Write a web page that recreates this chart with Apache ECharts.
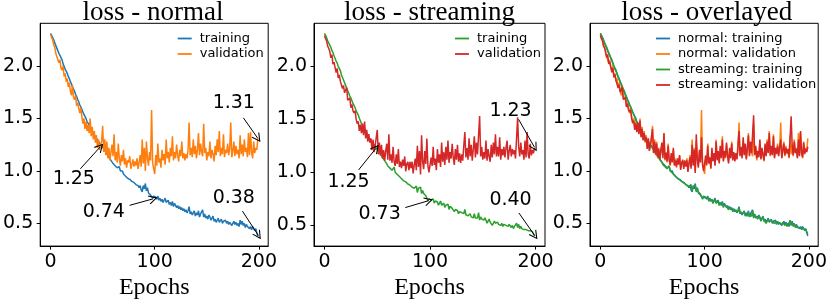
<!DOCTYPE html>
<html>
<head>
<meta charset="utf-8">
<script src="https://cdn.jsdelivr.net/npm/echarts@6/dist/echarts.min.js"></script>
<style>html,body{margin:0;padding:0;background:#fff}#c{width:830px;height:305px}</style>
</head>
<body>
<div id="c"></div>
<script>
// ---------- data ----------
const epochs = Array.from({length: 200}, (_, i) => i);
const xTicks = [0, 100, 200];
const yTicks = [0.5, 1.0, 1.5, 2.0];
const titles = ['loss - normal', 'loss - streaming', 'loss - overlayed'];

const normalTraining = [
2.31,2.29,2.27,2.25,2.22,2.21,2.17,2.16,2.12,2.11,
2.08,2.06,2.02,2.01,1.97,1.95,1.93,1.90,1.88,1.85,
1.83,1.80,1.78,1.76,1.73,1.71,1.68,1.66,1.63,1.62,
1.59,1.56,1.55,1.52,1.50,1.47,1.46,1.44,1.41,1.40,
1.38,1.36,1.34,1.33,1.31,1.30,1.28,1.27,1.25,1.24,
1.23,1.21,1.20,1.18,1.16,1.16,1.13,1.12,1.10,1.11,
1.07,1.06,1.05,1.06,1.03,1.02,1.04,1.00,0.99,1.00,
0.97,0.98,0.95,0.96,0.93,0.94,0.92,0.93,0.90,0.91,
0.89,0.90,0.87,0.88,0.86,0.84,0.86,0.82,0.80,0.86,
0.83,0.88,0.81,0.84,0.79,0.80,0.77,0.78,0.74,0.76,
0.77,0.75,0.73,0.76,0.72,0.74,0.71,0.73,0.70,0.72,
0.74,0.70,0.69,0.72,0.68,0.70,0.67,0.71,0.66,0.69,
0.68,0.65,0.67,0.64,0.66,0.63,0.65,0.62,0.64,0.61,
0.63,0.60,0.62,0.66,0.59,0.61,0.58,0.60,0.62,0.57,
0.60,0.58,0.62,0.56,0.59,0.58,0.63,0.56,0.59,0.55,
0.57,0.54,0.58,0.56,0.53,0.55,0.57,0.52,0.54,0.51,
0.53,0.55,0.51,0.52,0.54,0.50,0.52,0.51,0.53,0.50,
0.52,0.49,0.51,0.50,0.48,0.50,0.52,0.49,0.51,0.48,
0.50,0.47,0.53,0.49,0.52,0.48,0.50,0.46,0.49,0.47,
0.48,0.45,0.47,0.44,0.47,0.46,0.43,0.45,0.41,0.38];

const normalValidation = [
2.30,2.27,2.25,2.20,2.18,2.12,2.09,2.10,2.03,2.06,
1.98,1.96,2.00,1.90,1.93,1.85,1.88,1.80,1.84,1.76,
1.72,1.82,1.70,1.68,1.72,1.62,1.65,1.60,1.55,1.60,
1.52,1.45,1.50,1.40,1.47,1.38,1.44,1.36,1.50,1.33,
1.42,1.30,1.38,1.27,1.34,1.22,1.30,1.20,1.25,1.28,
1.43,1.18,1.30,1.15,1.28,1.12,1.22,1.10,1.18,1.25,
1.14,1.35,1.10,1.18,1.08,1.26,1.12,1.05,1.15,1.09,
1.20,1.06,1.12,1.03,1.10,1.08,1.14,1.02,1.06,1.11,
1.04,1.09,1.05,1.12,1.02,1.08,1.15,1.04,1.30,1.07,
1.22,1.00,1.28,1.12,1.05,1.18,1.10,1.58,1.08,1.02,
0.97,1.15,1.05,1.26,1.08,1.12,1.03,1.20,1.10,1.16,
1.06,1.30,1.12,1.18,1.08,1.22,1.14,1.33,1.10,1.18,
1.12,1.25,1.15,1.09,1.20,1.14,1.28,1.12,1.17,1.10,
1.16,1.12,1.20,1.46,1.15,1.22,1.13,1.30,1.16,1.24,
1.12,1.20,1.36,1.15,1.26,1.18,1.14,1.45,1.17,1.22,
1.10,1.18,1.14,1.28,1.12,1.20,1.16,1.09,1.24,1.15,
1.30,1.18,1.38,1.14,1.22,1.16,1.35,1.13,1.20,1.17,
1.26,1.15,1.21,1.46,1.13,1.19,1.28,1.14,1.24,1.16,
1.20,1.12,1.34,1.16,1.25,1.14,1.30,1.18,1.22,1.13,
1.36,1.15,1.37,1.18,1.12,1.28,1.17,1.22,1.20,1.31];

const streamingTraining = [
2.31,2.30,2.27,2.24,2.23,2.20,2.18,2.15,2.13,2.10,
2.09,2.05,2.03,2.00,1.98,1.96,1.92,1.91,1.87,1.86,
1.82,1.81,1.77,1.76,1.72,1.70,1.69,1.65,1.64,1.61,
1.58,1.57,1.54,1.51,1.50,1.46,1.45,1.43,1.42,1.39,
1.37,1.37,1.33,1.32,1.30,1.29,1.27,1.26,1.25,1.23,
1.22,1.20,1.19,1.17,1.17,1.14,1.13,1.11,1.11,1.08,
1.06,1.07,1.04,1.05,1.02,1.03,1.05,1.00,1.00,0.98,
0.98,0.96,0.96,0.94,0.95,0.92,0.93,0.91,0.92,0.89,
0.90,0.88,0.89,0.86,0.87,0.85,0.84,0.87,0.81,0.85,
0.84,0.86,0.80,0.83,0.80,0.79,0.78,0.77,0.73,0.75,
0.76,0.74,0.74,0.75,0.71,0.73,0.72,0.72,0.69,0.71,
0.73,0.69,0.70,0.71,0.67,0.69,0.68,0.70,0.65,0.68,
0.67,0.66,0.66,0.63,0.65,0.64,0.64,0.61,0.63,0.62,
0.62,0.61,0.61,0.65,0.60,0.60,0.59,0.59,0.61,0.58,
0.59,0.57,0.61,0.57,0.58,0.57,0.62,0.55,0.58,0.56,
0.56,0.55,0.57,0.55,0.52,0.54,0.56,0.53,0.53,0.50,
0.52,0.54,0.52,0.51,0.53,0.51,0.51,0.50,0.52,0.49,
0.51,0.50,0.50,0.49,0.49,0.51,0.51,0.48,0.50,0.47,
0.49,0.48,0.52,0.48,0.51,0.47,0.49,0.47,0.48,0.46,
0.47,0.46,0.46,0.45,0.46,0.45,0.44,0.44,0.42,0.40];

const streamingValidation = [
2.29,2.26,2.24,2.19,2.17,2.14,2.08,2.11,2.02,2.04,
1.99,1.94,1.98,1.89,1.92,1.86,1.86,1.79,1.82,1.75,
1.74,1.80,1.68,1.69,1.70,1.61,1.64,1.58,1.56,1.58,
1.50,1.46,1.48,1.39,1.45,1.37,1.46,1.35,1.48,1.32,
1.40,1.29,1.36,1.28,1.32,1.21,1.31,1.19,1.25,1.26,
1.40,1.17,1.28,1.16,1.26,1.13,1.21,1.11,1.20,1.27,
1.12,1.36,1.11,1.17,1.09,1.24,1.10,1.06,1.17,1.08,
1.22,1.05,1.10,1.04,1.12,1.06,1.15,1.01,1.08,1.10,
1.02,1.10,1.04,1.10,0.99,1.07,1.13,1.02,1.25,1.05,
1.20,0.98,1.35,1.10,1.03,1.20,1.08,1.32,1.06,1.00,
0.99,1.14,1.06,1.24,1.07,1.13,1.02,1.22,1.09,1.17,
1.05,1.28,1.10,1.19,1.07,1.24,1.12,1.30,1.09,1.19,
1.13,1.27,1.14,1.07,1.22,1.12,1.26,1.10,1.18,1.09,
1.17,1.11,1.25,1.38,1.14,1.23,1.12,1.32,1.15,1.26,
1.11,1.22,1.34,1.14,1.28,1.17,1.16,1.53,1.15,1.24,
1.12,1.19,1.13,1.30,1.11,1.22,1.15,1.10,1.26,1.14,
1.28,1.17,1.36,1.15,1.24,1.15,1.33,1.12,1.22,1.16,
1.24,1.14,1.23,1.30,1.12,1.20,1.26,1.15,1.22,1.17,
1.21,1.13,1.32,1.52,1.24,1.15,1.28,1.17,1.21,1.12,
1.30,1.14,1.38,1.17,1.13,1.27,1.16,1.21,1.18,1.23];

// annotations: [label, textX, textY, arrowFromX, arrowFromY, arrowToX, arrowToY]
const normalNotes = [
  ['1.25', 22.3, 0.92, 28.6, 1.02, 47.6, 1.228],
  ['0.74', 51.1, 0.605, 75.9, 0.672, 98.5, 0.734],
  ['1.31', 175.9, 1.651, 185.1, 1.506, 199, 1.31],
  ['0.38', 175.9, 0.744, 184.2, 0.617, 199.5, 0.385]
];
const streamingNotes = [
  ['1.25', 22.8, 0.907, 32.3, 1.023, 48.8, 1.227],
  ['0.73', 52.2, 0.602, 76.6, 0.668, 98.7, 0.733],
  ['1.23', 176.3, 1.58, 183.9, 1.50, 199, 1.236],
  ['0.40', 176.3, 0.739, 184.2, 0.617, 199.3, 0.403]
];

// ---------- chart ----------
const C = {blue:'#1f77b4', orange:'#ff7f0e', green:'#2ca02c', red:'#d62728'};
const grids = [
  {left: 37.7, top: 23.3, width: 230.5, height: 229.2},
  {left: 314, top: 23.3, width: 231, height: 229.2},
  {left: 590, top: 23.3, width: 233.5, height: 229.2}
];
const xMin = -0.05 * 199, xMax = 199 + 0.05 * 199;
function yLim(arrs) {
  let lo = Infinity, hi = -Infinity;
  arrs.forEach(a => a.forEach(v => { lo = Math.min(lo, v); hi = Math.max(hi, v); }));
  const m = (hi - lo) * 0.05;
  return [lo - m, hi + m];
}
const yl = [
  yLim([normalTraining, normalValidation]),
  yLim([streamingTraining, streamingValidation]),
  yLim([normalTraining, normalValidation, streamingTraining, streamingValidation])
];
const tickFont = {fontFamily: 'DejaVu Sans', fontSize: 19, color: '#000'};

const xAxes = grids.map((g, i) => ({
  type: 'value', gridIndex: i, min: xMin, max: xMax,
  name: 'Epochs', nameLocation: 'middle', nameGap: 25,
  nameTextStyle: {fontFamily: 'Liberation Serif', fontSize: 24, color: '#000'},
  axisLine: {show: true, onZero: false, lineStyle: {color: '#000', width: 1}},
  axisTick: {show: true, length: 3.5, lineStyle: {color: '#000'}, customValues: xTicks},
  axisLabel: Object.assign({margin: 6, customValues: xTicks, formatter: v => String(v)}, tickFont),
  splitLine: {show: false}
}));
const yAxes = grids.map((g, i) => ({
  type: 'value', gridIndex: i, min: yl[i][0], max: yl[i][1],
  axisLine: {show: true, onZero: false, lineStyle: {color: '#000', width: 1}},
  axisTick: {show: true, length: 3.5, lineStyle: {color: '#000'}, customValues: yTicks},
  axisLabel: Object.assign({margin: 7, customValues: yTicks, formatter: v => v.toFixed(1)}, tickFont),
  splitLine: {show: false}
}));

function line(name, data, color, idx) {
  return {
    type: 'line', name: name, xAxisIndex: idx, yAxisIndex: idx,
    data: epochs.map((e, k) => [e, data[k]]),
    showSymbol: false, symbol: 'none', lineStyle: {color: color, width: 1.5}, itemStyle: {color: color},
    silent: true, animation: false, z: 2
  };
}
function notes(list, idx) {
  return {
    type: 'line', xAxisIndex: idx, yAxisIndex: idx, data: [], silent: true, animation: false, z: 5,
    markLine: {
      silent: true, animation: false,
      symbol: ['none', 'path://M5,0 L10,9 L9,9.6 L5,2.4 L1,9.6 L0,9 Z'], symbolSize: [9, 9],
      lineStyle: {color: '#000', width: 1, type: 'solid'}, label: {show: false},
      data: list.map(n => [{coord: [n[3], n[4]]}, {coord: [n[5], n[6]]}])
    },
    markPoint: {
      silent: true, animation: false, symbol: 'circle', symbolSize: 0,
      label: {show: true, position: 'inside', fontFamily: 'DejaVu Sans', fontSize: 19, color: '#000', formatter: p => p.name},
      data: list.map(n => ({name: n[0], coord: [n[1], n[2]]}))
    }
  };
}

const labelMap = {
  'n-training': 'training', 'n-validation': 'validation',
  's-training': 'training', 's-validation': 'validation',
  'o-nt': 'normal: training', 'o-nv': 'normal: validation',
  'o-st': 'streaming: training', 'o-sv': 'streaming: validation'
};
function legend(names, left) {
  return {
    data: names, left: left, top: 27, orient: 'vertical', itemGap: 2.5,
    icon: 'rect', itemWidth: 14, itemHeight: 1.8, selectedMode: false,
    formatter: n => labelMap[n],
    textStyle: {fontFamily: 'DejaVu Sans', fontSize: 13, color: '#000', padding: [0, 0, 0, 3]}
  };
}

const option = {
  animation: false,
  backgroundColor: '#fff',
  title: titles.map((t, i) => ({
    text: t, left: grids[i].left + grids[i].width / 2, textAlign: 'center', top: -1, padding: 0,
    textStyle: {fontFamily: 'Liberation Serif', fontSize: 27, fontWeight: 'normal', color: '#000'}
  })),
  legend: [
    legend(['n-training', 'n-validation'], 172.7),
    legend(['s-training', 's-validation'], 450),
    legend(['o-nt', 'o-nv', 'o-st', 'o-sv'], 651)
  ],
  grid: grids.map(g => Object.assign({show: true, borderColor: '#000', borderWidth: 1, backgroundColor: 'transparent'}, g)),
  xAxis: xAxes,
  yAxis: yAxes,
  series: [
    line('n-training', normalTraining, C.blue, 0),
    line('n-validation', normalValidation, C.orange, 0),
    notes(normalNotes, 0),
    line('s-training', streamingTraining, C.green, 1),
    line('s-validation', streamingValidation, C.red, 1),
    notes(streamingNotes, 1),
    line('o-nt', normalTraining, C.blue, 2),
    line('o-nv', normalValidation, C.orange, 2),
    line('o-st', streamingTraining, C.green, 2),
    line('o-sv', streamingValidation, C.red, 2)
  ]
};
const chart = echarts.init(document.getElementById('c'), null, {renderer: 'canvas'});
chart.setOption(option);
</script>
</body>
</html>
